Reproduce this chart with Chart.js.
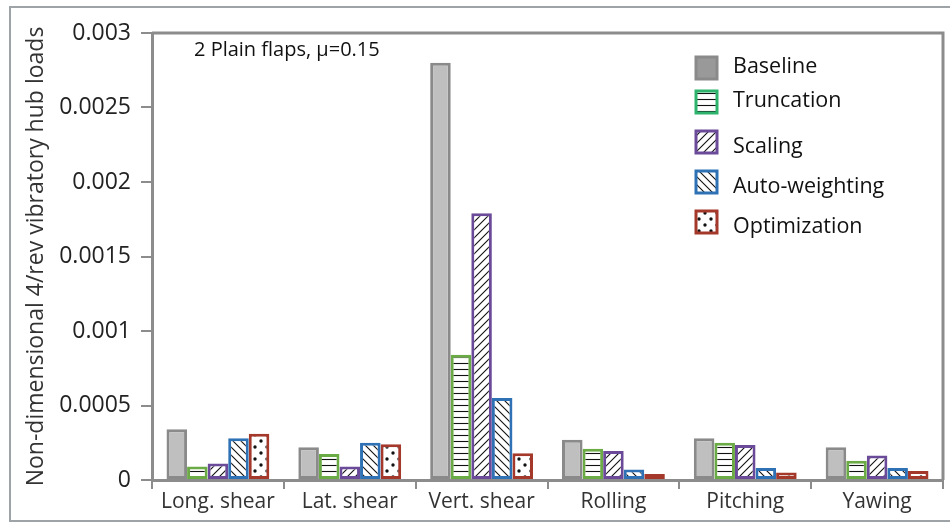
<!DOCTYPE html>
<html lang="en">
<head>
<meta charset="UTF-8" />
<title>4/rev hub loads - 2 plain flaps</title>
<style>
  html, body { margin: 0; padding: 0; background: #fff; }
  #wrap { width: 950px; height: 523px; }
</style>
</head>
<body>
<div id="wrap"><canvas id="hubChart" width="950" height="523"></canvas></div>
<script src="https://cdn.jsdelivr.net/npm/chart.js"></script>
<script>
// hub load components (x categories)
const categories = ['Long. shear', 'Lat. shear', 'Vert. shear', 'Rolling', 'Pitching', 'Yawing'];

// non-dimensional 4/rev vibratory loads per control strategy
const baseline      = [0.00034, 0.00022, 0.00280, 0.00027, 0.00028, 0.00022];
const truncation    = [0.00009, 0.000175, 0.00084, 0.00021, 0.00025, 0.00013];
const scaling       = [0.00011, 0.00009, 0.00179, 0.000195, 0.000235, 0.000165];
const autoWeighting = [0.00028, 0.00025, 0.00055, 0.00007, 0.00008, 0.00008];
const optimization  = [0.00031, 0.00024, 0.00018, 0.00004, 0.00005, 0.00006];

const yMax = 0.003;
const yStep = 0.0005;

const FONT = "'Open Sans', sans-serif";
const AXIS_GREY = '#8c8c8c';

// fill patterns for the hatched bars
function makePattern(kind) {
  const c = document.createElement('canvas');
  const s = kind === 'hlines' ? 6 : kind === 'dots' ? 12 : 8;
  c.width = s; c.height = s;
  const g = c.getContext('2d');
  g.fillStyle = '#fff';
  g.fillRect(0, 0, s, s);
  g.strokeStyle = '#111';
  g.fillStyle = '#111';
  g.lineWidth = 1.1;
  g.beginPath();
  if (kind === 'hlines') {
    g.moveTo(0, 3.5); g.lineTo(s, 3.5);
  } else if (kind === 'fwd') {
    g.moveTo(-1, 1); g.lineTo(1, -1);
    g.moveTo(0, s); g.lineTo(s, 0);
    g.moveTo(s - 1, s + 1); g.lineTo(s + 1, s - 1);
  } else if (kind === 'back') {
    g.moveTo(-1, s - 1); g.lineTo(1, s + 1);
    g.moveTo(0, 0); g.lineTo(s, s);
    g.moveTo(s - 1, -1); g.lineTo(s + 1, 1);
  }
  g.stroke();
  if (kind === 'dots') {
    [[3, 3], [9, 9]].forEach(([x, y]) => {
      g.beginPath(); g.arc(x, y, 1.7, 0, Math.PI * 2); g.fill();
    });
  }
  return g.createPattern(c, 'repeat');
}

const datasets = [
  { label: 'Baseline',       data: baseline,      backgroundColor: '#bfbfbf',              borderColor: '#8a8a8a', legendFill: '#999999' },
  { label: 'Truncation',     data: truncation,    backgroundColor: makePattern('hlines'), borderColor: '#6aab45', legendBorder: '#2db36c' },
  { label: 'Scaling',        data: scaling,       backgroundColor: makePattern('fwd'),    borderColor: '#6b4b99' },
  { label: 'Auto-weighting', data: autoWeighting, backgroundColor: makePattern('back'),   borderColor: '#2e72b5' },
  { label: 'Optimization',   data: optimization,  backgroundColor: makePattern('dots'),   borderColor: '#a3382b' }
].map(d => Object.assign(d, { borderWidth: 3, borderSkipped: false }));

// box around the plot, outer frame, annotation and legend
const decorations = {
  id: 'decorations',
  afterDraw(chart) {
    const { ctx, chartArea: a } = chart;
    ctx.save();
    // outer frame
    ctx.strokeStyle = '#9ea3a8';
    ctx.lineWidth = 2;
    ctx.beginPath();
    ctx.moveTo(960, 7); ctx.lineTo(10, 7); ctx.lineTo(10, 521); ctx.lineTo(960, 521);
    ctx.stroke();
    // top and right edges of the plot box
    ctx.strokeStyle = AXIS_GREY;
    ctx.lineWidth = 3;
    ctx.beginPath();
    ctx.moveTo(a.left, a.top); ctx.lineTo(a.right, a.top); ctx.lineTo(a.right, a.bottom);
    ctx.stroke();

    ctx.fillStyle = '#111';
    ctx.font = `20px ${FONT}`;
    ctx.textBaseline = 'middle';
    ctx.fillText('2 Plain flaps, \u03bc=0.15', 194, 50);

    // legend
    const rows = [68, 102, 142, 182, 222];
    const textRows = [67, 101, 147, 187, 227];
    chart.data.datasets.forEach((ds, i) => {
      const y = rows[i];
      ctx.fillStyle = ds.legendFill || ds.backgroundColor;
      ctx.fillRect(696, y - 11, 21, 22);
      ctx.strokeStyle = ds.legendBorder || ds.borderColor;
      ctx.lineWidth = 3;
      ctx.strokeRect(696, y - 11, 21, 22);
      ctx.fillStyle = '#111';
      ctx.font = `21.5px ${FONT}`;
      ctx.fillText(ds.label, 733, textRows[i]);
    });
    ctx.restore();
  }
};

new Chart(document.getElementById('hubChart'), {
  type: 'bar',
  data: { labels: categories, datasets },
  plugins: [decorations],
  options: {
    responsive: false,
    animation: false,
    layout: { padding: { left: 10, right: 7, top: 33, bottom: 0 } },
    datasets: { bar: { categoryPercentage: 0.78, barPercentage: 1.0 } },
    plugins: { legend: { display: false }, tooltip: { enabled: false } },
    scales: {
      x: {
        grid: { drawOnChartArea: false, drawTicks: true, tickLength: 9, offset: true, color: AXIS_GREY, lineWidth: 2 },
        border: { display: true, color: AXIS_GREY, width: 3 },
        ticks: { color: '#333', padding: 0, font: { family: FONT, size: 21 } },
        afterFit(scale) { scale.height = 43; }
      },
      y: {
        min: 0,
        max: yMax,
        ticks: {
          stepSize: yStep,
          color: '#222',
          padding: 10,
          font: { family: FONT, size: 23 },
          callback: v => String(+v.toFixed(4))
        },
        grid: { drawOnChartArea: false, drawTicks: true, tickLength: 11, color: AXIS_GREY, lineWidth: 2 },
        border: { display: true, color: AXIS_GREY, width: 3 },
        title: {
          display: true,
          text: 'Non-dimensional 4/rev vibratory hub loads',
          color: '#333',
          font: { family: FONT, size: 23 },
          padding: { top: 13, bottom: 0 }
        },
        afterFit(scale) { scale.width = 142; }
      }
    }
  }
});
</script>
</body>
</html>
